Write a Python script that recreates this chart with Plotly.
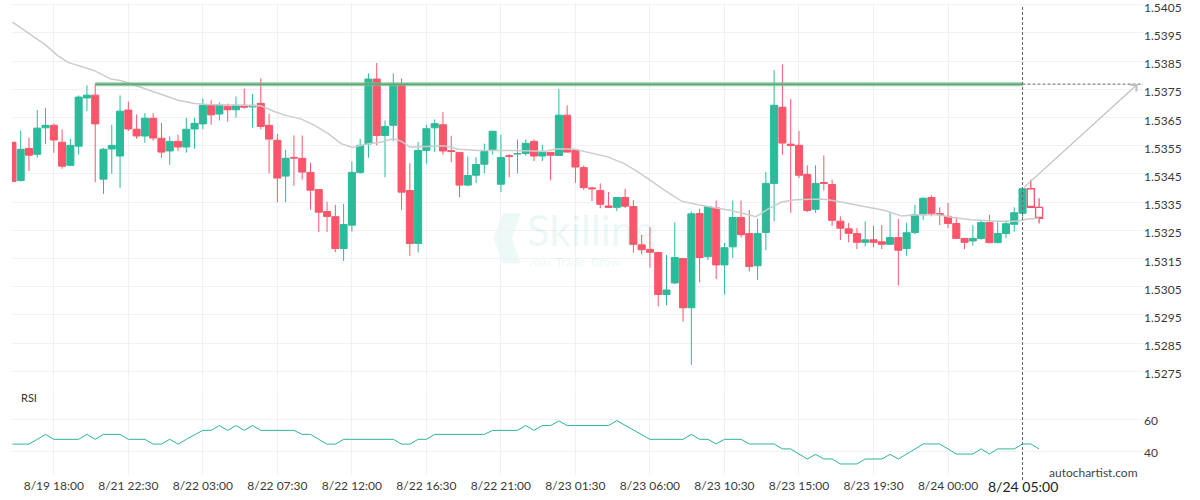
import plotly.graph_objects as go

# ---------------- data ----------------
candle_index = list(range(125))

open_ = [1.53562, 1.53426, 1.53540, 1.53519, 1.53613, 1.53622, 1.53562, 1.53480, 1.53548, 1.53719,
         1.53729, 1.53431, 1.53538, 1.53513, 1.53676, 1.53608, 1.53584, 1.53647, 1.53576, 1.53531,
         1.53565, 1.53545, 1.53609, 1.53627, 1.53693, 1.53662, 1.53690, 1.53677, 1.53693, 1.53687,
         1.53700, 1.53622, 1.53569, 1.53442, 1.53508, 1.53505, 1.53455, 1.53394, 1.53316, 1.53298,
         1.53185, 1.53268, 1.53455, 1.53556, 1.53786, 1.53586, 1.53622, 1.53767, 1.53391, 1.53203,
         1.53533, 1.53613, 1.53624, 1.53532, 1.53526, 1.53410, 1.53445, 1.53484, 1.53535, 1.53413,
         1.53514, 1.53520, 1.53522, 1.53565, 1.53513, 1.53526, 1.53515, 1.53658, 1.53534, 1.53472,
         1.53400, 1.53391, 1.53336, 1.53331, 1.53366, 1.53334, 1.53198, 1.53182, 1.53171, 1.53022,
         1.53063, 1.53150, 1.52975, 1.53309, 1.53156, 1.53329, 1.53127, 1.53191, 1.53295, 1.53238,
         1.53124, 1.53242, 1.53416, 1.53686, 1.53555, 1.53551, 1.53448, 1.53324, 1.53419, 1.53412,
         1.53282, 1.53255, 1.53238, 1.53207, 1.53216, 1.53209, 1.53200, 1.53224, 1.53185, 1.53242,
         1.53305, 1.53366, 1.53309, 1.53299, 1.53274, 1.53221, 1.53212, 1.53221, 1.53277, 1.53206,
         1.53238, 1.53271, 1.53310, 1.53397, 1.53331]

high = [1.53562, 1.53603, 1.53579, 1.53676, 1.53683, 1.53628, 1.53607, 1.53574, 1.53728, 1.53764,
        1.53768, 1.53542, 1.53624, 1.53728, 1.53706, 1.53660, 1.53665, 1.53665, 1.53631, 1.53583,
        1.53589, 1.53649, 1.53649, 1.53717, 1.53711, 1.53703, 1.53699, 1.53724, 1.53752, 1.53733,
        1.53788, 1.53663, 1.53592, 1.53535, 1.53586, 1.53586, 1.53489, 1.53394, 1.53351, 1.53340,
        1.53343, 1.53494, 1.53574, 1.53806, 1.53843, 1.53639, 1.53806, 1.53788, 1.53488, 1.53563,
        1.53624, 1.53643, 1.53669, 1.53585, 1.53526, 1.53512, 1.53509, 1.53557, 1.53601, 1.53589,
        1.53520, 1.53572, 1.53572, 1.53572, 1.53553, 1.53527, 1.53750, 1.53693, 1.53534, 1.53480,
        1.53404, 1.53416, 1.53386, 1.53367, 1.53397, 1.53357, 1.53233, 1.53260, 1.53174, 1.53162,
        1.53278, 1.53150, 1.53316, 1.53326, 1.53334, 1.53355, 1.53205, 1.53355, 1.53355, 1.53322,
        1.53290, 1.53456, 1.53818, 1.53838, 1.53715, 1.53602, 1.53480, 1.53480, 1.53515, 1.53429,
        1.53299, 1.53276, 1.53258, 1.53281, 1.53266, 1.53268, 1.53314, 1.53290, 1.53276, 1.53340,
        1.53367, 1.53373, 1.53331, 1.53347, 1.53296, 1.53221, 1.53268, 1.53284, 1.53304, 1.53278,
        1.53284, 1.53331, 1.53399, 1.53429, 1.53363]

low = [1.53423, 1.53423, 1.53460, 1.53507, 1.53556, 1.53525, 1.53468, 1.53477, 1.53518, 1.53672,
       1.53420, 1.53379, 1.53450, 1.53400, 1.53602, 1.53574, 1.53560, 1.53567, 1.53507, 1.53482,
       1.53531, 1.53525, 1.53539, 1.53608, 1.53624, 1.53639, 1.53635, 1.53649, 1.53681, 1.53614,
       1.53608, 1.53452, 1.53349, 1.53349, 1.53408, 1.53430, 1.53322, 1.53244, 1.53244, 1.53172,
       1.53141, 1.53245, 1.53450, 1.53507, 1.53551, 1.53438, 1.53565, 1.53322, 1.53159, 1.53171,
       1.53486, 1.53527, 1.53518, 1.53491, 1.53367, 1.53406, 1.53417, 1.53452, 1.53518, 1.53385,
       1.53438, 1.53452, 1.53514, 1.53495, 1.53495, 1.53427, 1.53515, 1.53527, 1.53418, 1.53393,
       1.53353, 1.53328, 1.53329, 1.53317, 1.53329, 1.53171, 1.53164, 1.53117, 1.52980, 1.52984,
       1.53059, 1.52926, 1.52772, 1.53065, 1.53144, 1.53077, 1.53022, 1.53151, 1.53224, 1.53104,
       1.53073, 1.53179, 1.53281, 1.53518, 1.53312, 1.53435, 1.53314, 1.53312, 1.53391, 1.53265,
       1.53215, 1.53207, 1.53183, 1.53193, 1.53189, 1.53183, 1.53198, 1.53054, 1.53159, 1.53236,
       1.53286, 1.53299, 1.53268, 1.53258, 1.53219, 1.53183, 1.53195, 1.53216, 1.53203, 1.53203,
       1.53221, 1.53245, 1.53298, 1.53331, 1.53274]

close = [1.53423, 1.53537, 1.53516, 1.53612, 1.53622, 1.53570, 1.53477, 1.53551, 1.53722, 1.53729,
         1.53627, 1.53537, 1.53551, 1.53672, 1.53609, 1.53584, 1.53647, 1.53577, 1.53527, 1.53565,
         1.53545, 1.53608, 1.53629, 1.53693, 1.53659, 1.53693, 1.53677, 1.53693, 1.53686, 1.53693,
         1.53618, 1.53573, 1.53435, 1.53505, 1.53506, 1.53456, 1.53392, 1.53314, 1.53299, 1.53185,
         1.53270, 1.53455, 1.53551, 1.53786, 1.53586, 1.53618, 1.53767, 1.53385, 1.53203, 1.53533,
         1.53610, 1.53628, 1.53531, 1.53529, 1.53410, 1.53444, 1.53483, 1.53529, 1.53601, 1.53508,
         1.53512, 1.53522, 1.53558, 1.53513, 1.53526, 1.53516, 1.53658, 1.53527, 1.53474, 1.53401,
         1.53397, 1.53342, 1.53331, 1.53366, 1.53335, 1.53200, 1.53181, 1.53172, 1.53022, 1.53038,
         1.53153, 1.52975, 1.53308, 1.53153, 1.53334, 1.53127, 1.53188, 1.53295, 1.53234, 1.53121,
         1.53238, 1.53416, 1.53693, 1.53559, 1.53551, 1.53445, 1.53320, 1.53416, 1.53416, 1.53285,
         1.53257, 1.53239, 1.53207, 1.53216, 1.53207, 1.53200, 1.53224, 1.53179, 1.53241, 1.53305,
         1.53363, 1.53310, 1.53305, 1.53274, 1.53221, 1.53207, 1.53221, 1.53277, 1.53206, 1.53238,
         1.53273, 1.53312, 1.53397, 1.53331, 1.53292]

rsi = [44.3, 44.3, 44.3, 47.3, 50.4, 47.3, 47.3, 47.3, 47.3, 50.4,
       47.3, 50.4, 50.4, 50.4, 47.3, 47.3, 47.3, 44.3, 44.3, 47.3,
       44.3, 47.3, 50.2, 52.9, 52.9, 55.9, 52.9, 55.9, 52.9, 55.9,
       52.9, 52.9, 52.9, 52.9, 52.9, 50.4, 50.4, 47.3, 44.3, 44.3,
       47.3, 47.3, 47.3, 47.3, 47.3, 47.3, 47.3, 44.3, 44.3, 47.3,
       47.3, 50.4, 50.4, 50.4, 50.4, 50.4, 50.4, 50.4, 52.9, 52.9,
       52.9, 52.9, 55.9, 52.9, 55.9, 55.9, 58.8, 55.9, 55.9, 55.9,
       55.9, 55.9, 55.9, 59.0, 56.0, 53.0, 50.2, 47.3, 47.3, 47.3,
       47.3, 47.3, 50.4, 47.3, 47.3, 44.4, 47.3, 47.3, 47.3, 44.4,
       44.4, 44.4, 44.4, 41.3, 41.3, 38.1, 35.0, 37.9, 35.0, 35.0,
       31.9, 31.9, 31.9, 35.0, 35.0, 35.0, 37.9, 35.0, 38.1, 41.3,
       44.4, 44.4, 44.4, 41.3, 38.1, 38.1, 38.1, 41.3, 38.1, 41.3,
       41.3, 41.3, 44.4, 44.4, 41.3]

ma_x = [0, 2, 4, 5.4, 6.7, 8.7, 9.9, 11.9, 13.2, 15.6, 17.6, 20, 22, 23.6, 27.7, 30, 31.7, 32.9,
        34.9, 36.5, 38.1, 39.7, 41.1, 43, 44.6, 46, 47, 48, 52.2, 53.9, 56.3, 60.3, 64.3, 65.9,
        67.9, 69.9, 71.9, 73.9, 75.6, 78.8, 80.8, 82.8, 84.4, 86.8, 88.4, 89.8, 91.3, 92.9, 94.5,
        97.7, 99.1, 102.1, 105.4, 107.4, 109.4, 111.8, 113.4, 115.8, 119, 121.4, 122.6, 124]
ma_y = [1.53988, 1.53949, 1.53907, 1.53871, 1.53845, 1.53827, 1.53816, 1.53786, 1.53780, 1.53756,
        1.53735, 1.53711, 1.53699, 1.53696, 1.53693, 1.53691, 1.53670, 1.53658, 1.53644, 1.53622,
        1.53593, 1.53557, 1.53543, 1.53557, 1.53563, 1.53575, 1.53565, 1.53545, 1.53549, 1.53537,
        1.53533, 1.53533, 1.53530, 1.53539, 1.53537, 1.53524, 1.53510, 1.53486, 1.53456, 1.53391,
        1.53353, 1.53340, 1.53332, 1.53320, 1.53308, 1.53298, 1.53326, 1.53350, 1.53358, 1.53361,
        1.53355, 1.53338, 1.53320, 1.53300, 1.53305, 1.53305, 1.53296, 1.53287, 1.53282, 1.53282,
        1.53290, 1.53292]

tick_index = [5, 14, 23, 32, 41, 50, 59, 68, 77, 86, 95, 104, 113]
tick_labels = ["8/19 18:00", "8/21 22:30", "8/22 03:00", "8/22 07:30", "8/22 12:00", "8/22 16:30",
               "8/22 21:00", "8/23 01:30", "8/23 06:00", "8/23 10:30", "8/23 15:00", "8/23 19:30",
               "8/24 00:00"]
current_index = 122
current_label = "8/24 05:00"

price_ticks = [1.5275, 1.5285, 1.5295, 1.5305, 1.5315, 1.5325, 1.5335, 1.5345, 1.5355, 1.5365,
               1.5375, 1.5385, 1.5395, 1.5405]
price_tick_labels = ["1.5275", "1.5285", "1.5295", "1.5305", "1.5315", "1.5325", "1.5335", "1.5345",
                     "1.5355", "1.5365", "1.5375", "1.5385", "1.5395", "1.5405"]
rsi_ticks = [40, 60]

resistance_level = 1.53768
resistance_start = 10
target_index = 135.9

# ---------------- styling ----------------
GREEN = "#2bbb9b"
RED = "#f9566b"
GRID = "#eef2f8"
TXT = "#3a3a3a"
FONT = "Lato"

n_solid = current_index + 1

fig = go.Figure()

fig.add_trace(go.Candlestick(
    x=candle_index[:n_solid], open=open_[:n_solid], high=high[:n_solid],
    low=low[:n_solid], close=close[:n_solid],
    increasing=dict(line=dict(color=GREEN, width=1), fillcolor=GREEN),
    decreasing=dict(line=dict(color=RED, width=1), fillcolor=RED),
    whiskerwidth=0, xaxis="x", yaxis="y", hoverinfo="skip", showlegend=False,
))
fig.add_trace(go.Candlestick(
    x=candle_index[n_solid:], open=open_[n_solid:], high=high[n_solid:],
    low=low[n_solid:], close=close[n_solid:],
    increasing=dict(line=dict(color=GREEN, width=1.3), fillcolor="white"),
    decreasing=dict(line=dict(color=RED, width=1.3), fillcolor="white"),
    whiskerwidth=0, xaxis="x", yaxis="y", hoverinfo="skip", showlegend=False,
))

fig.add_trace(go.Scatter(
    x=ma_x, y=ma_y, mode="lines", line=dict(color="#cccccc", width=1.5),
    xaxis="x", yaxis="y", hoverinfo="skip", showlegend=False,
))

fig.add_trace(go.Scatter(
    x=candle_index, y=rsi, mode="lines", line=dict(color="#2bb59a", width=1),
    xaxis="x", yaxis="y2", hoverinfo="skip", showlegend=False,
))

# plot area geometry (px): left 12, right 1143, top 3, bottom 475
L, R, T, B = 12, 57, 3, 25
W, H = 1200, 500
plot_w = W - L - R
plot_h = H - T - B


def px_x(x):
    return (x - L) / plot_w


def px_y(y):
    return (H - B - y) / plot_h


price_bottom = px_y(383)
rsi_top = px_y(385)

shapes = []
# resistance line (green, thick)
shapes.append(dict(type="line", xref="x", yref="y", x0=resistance_start, x1=current_index,
                   y0=resistance_level, y1=resistance_level,
                   line=dict(color="rgba(120,190,140,0.75)", width=4), layer="above"))
shapes.append(dict(type="line", xref="x", yref="y", x0=resistance_start, x1=current_index,
                   y0=resistance_level, y1=resistance_level,
                   line=dict(color="#5fa776", width=1.5), layer="above"))
# dashed projection
shapes.append(dict(type="line", xref="x", yref="y", x0=current_index, x1=136.55,
                   y0=resistance_level, y1=resistance_level,
                   line=dict(color="#666666", width=1, dash="3px,2px"), layer="above"))
# vertical dashed line at current time
shapes.append(dict(type="line", xref="x", yref="paper", x0=current_index, x1=current_index,
                   y0=px_y(480), y1=px_y(5),
                   line=dict(color="#666666", width=1, dash="3px,2px"), layer="above"))

# watermark logo (faint)
logo_pts = [(503.3, 213.3), (521.0, 213.3), (511.7, 238.3), (521.0, 263.3), (503.3, 263.3), (493.3, 238.3)]
path = "M " + " L ".join(f"{px_x(a):.5f},{px_y(b):.5f}" for a, b in logo_pts) + " Z"
shapes.append(dict(type="path", xref="paper", yref="paper", path=path,
                   fillcolor="rgba(43,187,155,0.09)", line=dict(width=0), layer="below"))

annotations = []
annotations.append(dict(x=target_index, y=resistance_level, ax=current_index, ay=close[current_index],
                        xref="x", yref="y", axref="x", ayref="y", text="", showarrow=True,
                        arrowhead=4, arrowsize=1.6, arrowwidth=1.1, arrowcolor="#bdbdbd"))
annotations.append(dict(x=current_index, y=px_y(487), xref="x", yref="paper", text=current_label,
                        showarrow=False, font=dict(family=FONT, size=14, color="#222222"),
                        xanchor="center", yanchor="middle"))
annotations.append(dict(x=px_x(1140), y=px_y(472), xref="paper", yref="paper", text="autochartist.com",
                        showarrow=False, font=dict(family=FONT, size=12, color="#444444"),
                        xanchor="right", yanchor="middle"))
annotations.append(dict(x=px_x(19), y=px_y(397), xref="paper", yref="paper", text="RSI",
                        showarrow=False, font=dict(family=FONT, size=11, color="#333333"),
                        xanchor="left", yanchor="middle"))
annotations.append(dict(x=px_x(525), y=px_y(230), xref="paper", yref="paper", text="Skilling",
                        showarrow=False, font=dict(family=FONT, size=42, color="rgba(43,187,155,0.10)"),
                        xanchor="left", yanchor="middle"))
annotations.append(dict(x=px_x(527), y=px_y(261), xref="paper", yref="paper", text="Join. Trade. Grow.",
                        showarrow=False, font=dict(family=FONT, size=12, color="rgba(43,187,155,0.11)"),
                        xanchor="left", yanchor="middle"))

fig.update_layout(
    width=W, height=H,
    margin=dict(l=L, r=R, t=T, b=B, autoexpand=False),
    paper_bgcolor="white", plot_bgcolor="white",
    boxgap=0.15, boxgroupgap=0,
    font=dict(family=FONT, size=12, color=TXT),
    showlegend=False,
    xaxis=dict(
        range=[-0.05, 136.55], anchor="y2", rangeslider=dict(visible=False), automargin=False,
        tickmode="array", tickvals=tick_index, ticktext=tick_labels,
        showgrid=True, gridcolor=GRID, gridwidth=1, zeroline=False, showline=False,
        ticks="", ticklabelstandoff=2, tickfont=dict(family=FONT, size=12, color=TXT),
    ),
    yaxis=dict(
        domain=[price_bottom, 1], range=[1.527082, 1.540557], side="right", anchor="x",
        automargin=False, ticklabeloverflow="allow", ticklabelshift=3,
        tickmode="array", tickvals=price_ticks, ticktext=price_tick_labels,
        showgrid=True, gridcolor=GRID, zeroline=False, showline=False, ticks="",
        tickfont=dict(family=FONT, size=12, color=TXT),
    ),
    yaxis2=dict(
        domain=[0, rsi_top], range=[25, 81.25], side="right", anchor="x", automargin=False,
        ticklabelshift=2,
        tickmode="array", tickvals=rsi_ticks, ticktext=[str(v) for v in rsi_ticks],
        showgrid=True, gridcolor=GRID, zeroline=False, showline=False, ticks="",
        tickfont=dict(family=FONT, size=12, color=TXT),
    ),
    shapes=shapes,
    annotations=annotations,
)

# remove the browser's default 8px page margin so the figure sits at the window origin
fig.write_html("out.html", config={"displayModeBar": False},
               post_script="document.body.style.margin='0px';")
